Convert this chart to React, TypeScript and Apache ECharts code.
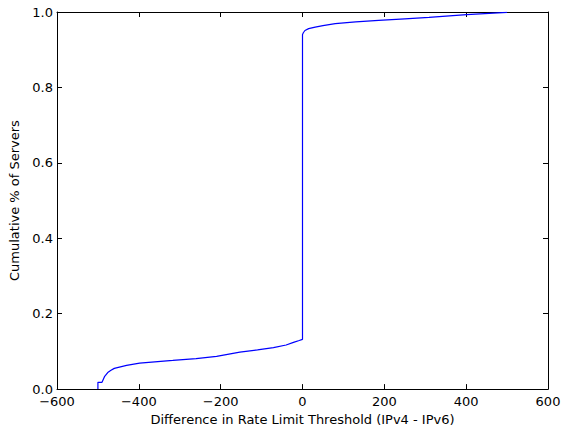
import React, { useEffect, useRef } from "react";
import * as echarts from "echarts";

const diffValues = [-500, -500, -490, -484, -476, -468, -460, -430, -398, -317, -260, -210, -153, -110, -71, -40, -22, -8, 0, 0, 2, 6, 15, 31, 50, 80, 130, 186, 250, 309, 401, 500];
const cumulative = [0, 0.018, 0.018, 0.033, 0.044, 0.05, 0.055, 0.063, 0.069, 0.076, 0.081, 0.087, 0.098, 0.104, 0.11, 0.117, 0.124, 0.129, 0.132, 0.94, 0.945, 0.951, 0.956, 0.96, 0.964, 0.969, 0.974, 0.978, 0.982, 0.986, 0.993, 0.999];
const xTicks = { min: -600, max: 600, interval: 200 };
const yTicks = { min: 0, max: 1, interval: 0.2 };

const font = "DejaVu Sans";
const fmtX = (v: number) => String(v).replace("-", "\u2212");
const fmtY = (v: number) => v.toFixed(1);

export default function App() {
  const ref = useRef<HTMLDivElement>(null);
  useEffect(() => {
    if (!ref.current) return;
    const chart = echarts.init(ref.current, null, { renderer: "svg" });
    const data = diffValues.map((x, i) => [x, cumulative[i]]);
    const axisCommon = {
      type: "value" as const,
      axisLine: { show: true, onZero: false, lineStyle: { color: "#000", width: 1 } },
      axisTick: { show: true, inside: true, length: 5, lineStyle: { color: "#000", width: 1 } },
      splitLine: { show: false },
    };
    chart.setOption({
      animation: false,
      backgroundColor: "#fff",
      grid: { left: 57, right: 21, top: 12, bottom: 40, containLabel: false },
      xAxis: [
        {
          ...axisCommon,
          position: "bottom",
          ...xTicks,
          name: "Difference in Rate Limit Threshold (IPv4 - IPv6)",
          nameLocation: "middle",
          nameGap: 21,
          nameTextStyle: { fontFamily: font, fontSize: 13, color: "#000" },
          axisLabel: { show: true, margin: 6, fontFamily: font, fontSize: 13, color: "#000", formatter: fmtX },
        },
        {
          ...axisCommon,
          position: "top",
          ...xTicks,
          axisLabel: { show: false },
        },
      ],
      yAxis: [
        {
          ...axisCommon,
          position: "left",
          ...yTicks,
          name: "Cumulative % of Servers",
          nameLocation: "middle",
          nameGap: 28,
          nameTextStyle: { fontFamily: font, fontSize: 13, color: "#000" },
          axisLabel: { show: true, margin: 4, fontFamily: font, fontSize: 13, color: "#000", formatter: fmtY },
        },
        {
          ...axisCommon,
          position: "right",
          ...yTicks,
          axisLabel: { show: false },
        },
      ],
      series: [
        {
          type: "line",
          xAxisIndex: 0,
          yAxisIndex: 0,
          data,
          showSymbol: false,
          symbol: "none",
          lineStyle: { color: "#0000ff", width: 1.2 },
          itemStyle: { color: "#0000ff" },
        },
      ],
    });
    return () => chart.dispose();
  }, []);
  return <div ref={ref} style={{ width: 569, height: 431, position: "absolute", left: 0, top: 0 }} />;
}
